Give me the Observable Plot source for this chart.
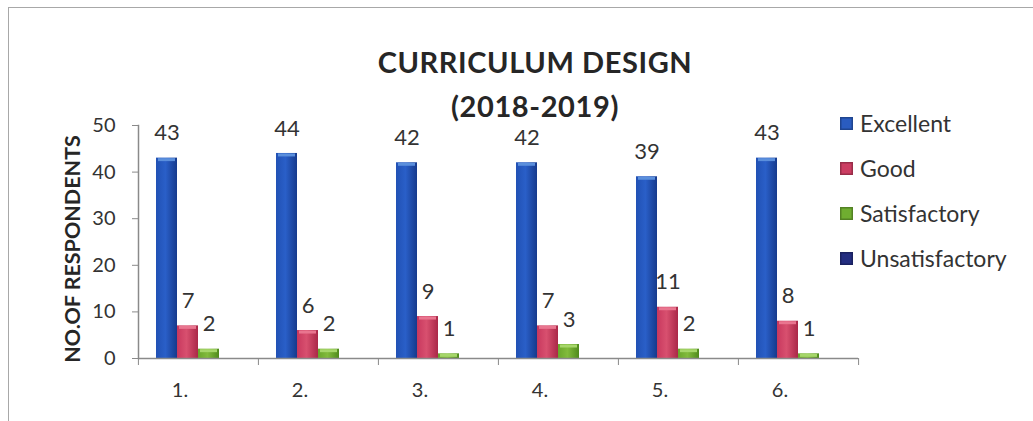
<!DOCTYPE html>
<html><head><meta charset="utf-8">
<script src="https://cdn.jsdelivr.net/npm/d3@7"></script>
<script src="https://cdn.jsdelivr.net/npm/@observablehq/plot@0.6"></script>
<style>
body{margin:0;background:#fff;}
#wrap{position:relative;width:1033px;height:421px;overflow:hidden;font-family:Lato,"Open Sans",sans-serif;color:#2a2a2a;background:#fff;}
#border{position:absolute;left:8px;top:7px;right:-2px;bottom:-2px;border-top:1.5px solid #a8a8a8;border-left:1.5px solid #a8a8a8;}
#chart{position:absolute;left:0;top:0;}
#title{position:absolute;left:285px;width:500px;top:40px;text-align:center;font-weight:bold;font-size:29px;letter-spacing:0.6px;line-height:44px;color:#262626;}
#ylab{position:absolute;left:72px;top:249px;transform:translate(-50%,-50%) rotate(-90deg);white-space:nowrap;font-weight:bold;font-size:21.5px;color:#262626;}
#legend{position:absolute;left:840px;top:108px;}
.li{position:absolute;left:0;height:30px;display:flex;align-items:center;white-space:nowrap;font-size:23px;color:#333;}
.sw{width:13px;height:13px;margin-right:7px;box-sizing:border-box;}
</style></head><body>
<div id="wrap">
  <div id="border"></div>
  <div id="chart"></div>
  <div id="title">CURRICULUM DESIGN<br>(2018-2019)</div>
  <div id="ylab">NO.OF RESPONDENTS</div>
  <div id="legend"></div>
</div>
<svg width="0" height="0" style="position:absolute">
  <defs>
    <linearGradient id="gE" x1="0" x2="1" y1="0" y2="0">
      <stop offset="0" stop-color="#2151b4"/><stop offset="0.45" stop-color="#2a5fc8"/><stop offset="1" stop-color="#163a8c"/>
    </linearGradient>
    <linearGradient id="gG" x1="0" x2="1" y1="0" y2="0">
      <stop offset="0" stop-color="#c8385e"/><stop offset="0.45" stop-color="#d8506f"/><stop offset="1" stop-color="#aa2848"/>
    </linearGradient>
    <linearGradient id="gS" x1="0" x2="1" y1="0" y2="0">
      <stop offset="0" stop-color="#6aa62c"/><stop offset="0.45" stop-color="#82bb3c"/><stop offset="1" stop-color="#4f8a1c"/>
    </linearGradient>
    <linearGradient id="gU" x1="0" x2="1" y1="0" y2="0">
      <stop offset="0" stop-color="#243080"/><stop offset="0.45" stop-color="#2c3a94"/><stop offset="1" stop-color="#18205e"/>
    </linearGradient>
  </defs>
</svg>
<script>
const categories = ["1.", "2.", "3.", "4.", "5.", "6."];
const series = ["Excellent", "Good", "Satisfactory", "Unsatisfactory"];
const excellent = [43, 44, 42, 42, 39, 43];
const good = [7, 6, 9, 7, 11, 8];
const satisfactory = [2, 2, 1, 3, 2, 1];
const unsatisfactory = [0, 0, 0, 0, 0, 0];
const yTicks = [0, 10, 20, 30, 40, 50];
const seriesFills = ["url(#gE)", "url(#gG)", "url(#gS)", "url(#gU)"];
const capColors = ["#5b8fdc", "#e9758f", "#a6d66a", "#4a58b0"];
const legendColors = ["#2a5cc0", "#cc3d62", "#6fae30", "#232d80"];

const valuesBySeries = [excellent, good, satisfactory, unsatisfactory];
const data = [];
categories.forEach((c, i) => {
  series.forEach((s, j) => data.push({cat: c, series: s, value: valuesBySeries[j][i], fill: seriesFills[j], cap: capColors[j]}));
});
const nonZero = data.filter(d => d.value > 0);

const W = 1033, H = 421, mL = 137, mR = 175, mT = 125, mB = 63;
const step = (W - mL - mR) / categories.length;

const chart = Plot.plot({
  width: W, height: H,
  marginLeft: mL, marginRight: mR, marginTop: mT, marginBottom: mB,
  style: {fontFamily: "Lato, 'Open Sans', sans-serif", fontSize: "19px", color: "#333", background: "transparent", overflow: "visible"},
  fx: {domain: categories, padding: 0, label: null},
  x: {domain: series, paddingInner: 0, paddingOuter: 0.73, axis: null},
  y: {domain: [0, 50], label: null},
  color: {type: "identity"},
  marks: [
    Plot.barY(data, {fx: "cat", x: "series", y: "value", fill: "fill"}),
    Plot.tickY(nonZero, {fx: "cat", x: "series", y: "value", stroke: "cap", strokeWidth: 3, dy: 1.5, insetLeft: 2, insetRight: 2}),
    Plot.ruleY([0], {stroke: "#8a8a8a", strokeWidth: 1.5}),
    Plot.frame({anchor: "left", facetAnchor: "left", stroke: "#8a8a8a", strokeWidth: 1.5}),
    Plot.axisY({ticks: yTicks, tickSize: 6, tickPadding: 17, fontSize: 20, label: null, stroke: "#8a8a8a"}),
    Plot.axisFx({anchor: "bottom", tickSize: 0, tickPadding: 24, dx: -18.5, fontSize: 20, label: null}),
    Plot.axisFx({anchor: "bottom", tickSize: 7, text: null, dx: -step / 2, label: null, stroke: "#8a8a8a"}),
    Plot.axisFx({anchor: "bottom", ticks: [categories[categories.length - 1]], tickSize: 7, text: null, dx: step / 2, label: null, stroke: "#8a8a8a"}),
    Plot.text(nonZero, {fx: "cat", x: "series", y: "value", text: d => String(d.value), dy: -25, fontSize: 22, fill: "#333"})
  ]
});
document.getElementById("chart").appendChild(chart);

const legend = document.getElementById("legend");
series.forEach((s, j) => {
  const item = document.createElement("div");
  item.className = "li";
  item.style.top = (j * 45) + "px";
  const sw = document.createElement("div");
  sw.className = "sw";
  sw.style.background = legendColors[j];
  sw.style.boxShadow = "inset 0 0 0 1.5px rgba(0,0,0,0.25)";
  item.appendChild(sw);
  item.appendChild(document.createTextNode(s));
  legend.appendChild(item);
});
</script>
</body></html>
